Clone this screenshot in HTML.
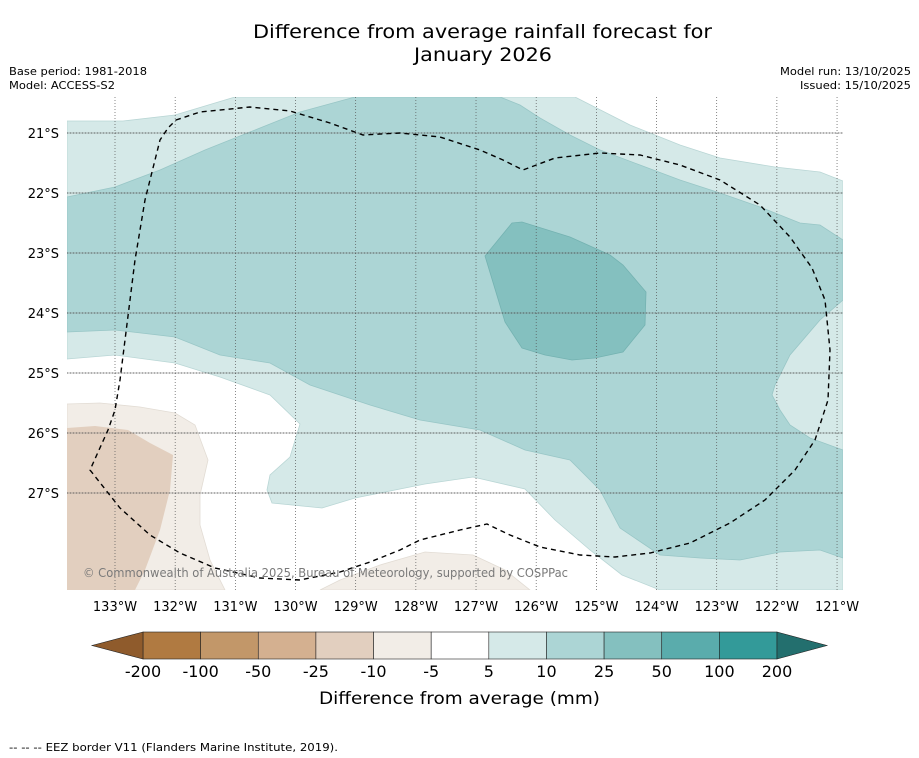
<!DOCTYPE html>
<html><head><meta charset="utf-8">
<style>
body{margin:0;background:#fff;font-family:"DejaVu Sans","Liberation Sans",sans-serif;}
#wrap{position:relative;width:919px;height:758px;overflow:hidden;background:#fff;}
</style></head>
<body>
<div id="wrap">
<svg id="svg" width="919" height="758" xmlns="http://www.w3.org/2000/svg" font-family="DejaVu Sans, Liberation Sans, sans-serif">
<text x="253" y="38" font-size="19" textLength="459" lengthAdjust="spacingAndGlyphs">Difference from average rainfall forecast for</text>
<text x="414" y="61" font-size="19" textLength="138" lengthAdjust="spacingAndGlyphs">January 2026</text>
<text x="9" y="75" font-size="11" textLength="138" lengthAdjust="spacingAndGlyphs">Base period: 1981-2018</text>
<text x="9" y="89" font-size="11" textLength="106" lengthAdjust="spacingAndGlyphs">Model: ACCESS-S2</text>
<text x="780" y="75" font-size="11" textLength="131" lengthAdjust="spacingAndGlyphs">Model run: 13/10/2025</text>
<text x="800" y="89" font-size="11" textLength="111" lengthAdjust="spacingAndGlyphs">Issued: 15/10/2025</text>
<defs><clipPath id="mapclip"><rect x="67" y="97" width="776" height="493"/></clipPath></defs>
<g id="map" clip-path="url(#mapclip)">
<polygon fill="#d5e9e8" stroke="#b9d6d5" stroke-width="0.8" points="67,121 123,121 175,115 235,97 575,97 630,125 680,145 720,158 775,167 820,172 843,181 843,590 660,590 622,575 590,550 555,520 525,489 473,477 425,484 400,489 355,498 322,508 272,503 267,490 270,475 290,457 300,424 270,395 220,377 175,363 115,355 67,359"/>
<polygon fill="#acd5d5" stroke="#98c6c6" stroke-width="0.8" points="67,197 115,187 160,170 205,150 250,132 300,112 355,97 500,97 520,105 540,118 570,135 600,150 640,165 680,180 720,193 760,207 800,223 820,225 843,240 843,300 820,320 790,355 775,385 772,395 780,410 790,425 810,438 843,450 843,558 820,550 780,552 740,560 700,558 660,555 620,528 600,490 570,460 525,450 480,430 420,420 370,405 310,385 270,363 220,355 175,337 115,330 67,332"/>
<polygon fill="#84c0bf" stroke="#74b2b1" stroke-width="0.8" points="485,256 512,223 522,222 570,237 610,255 623,265 640,285 646,292 645,325 623,352 595,358 572,360 545,355 522,348 505,322"/>
<polygon fill="#f2ede7" stroke="#e2dcd4" stroke-width="0.8" points="67,404 100,403 140,407 175,413 195,425 208,460 200,495 200,525 210,560 225,590 67,590"/>
<polygon fill="#f2ede7" stroke="#e2dcd4" stroke-width="0.8" points="320,590 340,580 380,565 425,552 473,555 505,570 530,590"/>
<polygon fill="#e2cfbf" points="67,428 95,426 128,430 150,443 173,455 170,490 160,530 145,570 135,590 67,590"/>
<g id="grid"></g>
<polyline fill="none" stroke="#000" stroke-width="1.4" stroke-dasharray="5,4" points="176,120 200,112 250,107 290,111 330,123 363,135 400,133 440,137 480,150 503,160 523,170 555,158 600,153 640,155 680,165 720,180 760,205 790,237 812,268 825,300 830,350 828,400 815,440 795,470 765,500 730,523 690,543 650,553 615,557 580,555 540,547 510,535 487,524 460,530 420,540 400,550 370,562 340,572 300,580 260,578 215,568 180,553 150,535 120,508 90,470 108,430 115,410 120,380 125,340 130,300 135,260 145,200 160,140 168,128 176,120"/>
<text x="83" y="577" font-size="12" fill="#7a7a7a" textLength="485" lengthAdjust="spacingAndGlyphs">© Commonwealth of Australia 2025, Bureau of Meteorology, supported by COSPPac</text>
</g>
<g id="axes"></g>
<g id="colorbar"></g>
<text x="319" y="704" font-size="17" textLength="281" lengthAdjust="spacingAndGlyphs">Difference from average (mm)</text>
<text x="9" y="751" font-size="11" textLength="329" lengthAdjust="spacingAndGlyphs">--  --  -- EEZ border V11 (Flanders Marine Institute, 2019).</text>
</svg>
</div>
<script>
const lonTicks=[133,132,131,130,129,128,127,126,125,124,123,122,121];
const latTicks=[21,22,23,24,25,26,27];
const cbLabels=["-200","-100","-50","-25","-10","-5","5","10","25","50","100","200"];
const cbColors=["#b07a41","#c29769","#d4b090","#e2cfbf","#f2ede7","#ffffff","#d5e9e8","#acd5d5","#84c0bf","#5aacac","#339a99"];
const NS="http://www.w3.org/2000/svg";
function xLon(l){return 115+(133-l)*60.17;}
function yLat(l){return 133+(l-21)*60;}
function el(t,a,p){const e=document.createElementNS(NS,t);for(const k in a)e.setAttribute(k,a[k]);p.appendChild(e);return e;}
const grid=document.getElementById('grid'),axes=document.getElementById('axes'),cb=document.getElementById('colorbar');
lonTicks.forEach(l=>{const x=xLon(l);
 const g=el('line',{x1:x,x2:x,y1:97,y2:590,stroke:'#555','stroke-width':0.7,'stroke-dasharray':'1,2'},grid);
 
 const t=el('text',{x:x,y:611,'text-anchor':'middle','font-size':13},axes);t.textContent=l+'°W';
 });
latTicks.forEach(l=>{const y=yLat(l);
 const g=el('line',{x1:67,x2:843,y1:y,y2:y,stroke:'#777','stroke-width':0.8,opacity:0.7},grid);
 
 const g2=el('line',{x1:67,x2:843,y1:y,y2:y,stroke:'#444','stroke-width':0.7,'stroke-dasharray':'1,2'},grid);
 
 const t=el('text',{x:59,y:y+5,'text-anchor':'end','font-size':13},axes);t.textContent=l+'°S';
 });
const x0=143,x1=777,w=(x1-x0)/cbColors.length,y0=632,h=27;
cbColors.forEach((c,i)=>{const r=el('rect',{x:x0+i*w,y:y0,width:w,height:h,fill:c,stroke:'#222','stroke-width':0.6},cb);
 });
const lt=el('polygon',{points:`${x0},${y0} 92,${y0+h/2} ${x0},${y0+h}`,fill:'#8f5b2c',stroke:'#222','stroke-width':0.6},cb);

const rt=el('polygon',{points:`${x1},${y0} 827,${y0+h/2} ${x1},${y0+h}`,fill:'#236f6e',stroke:'#222','stroke-width':0.6},cb);

cbLabels.forEach((s,i)=>{const t=el('text',{x:x0+i*w,y:677,'text-anchor':'middle','font-size':16},cb);t.textContent=s;
 });
</script>
</body></html>
